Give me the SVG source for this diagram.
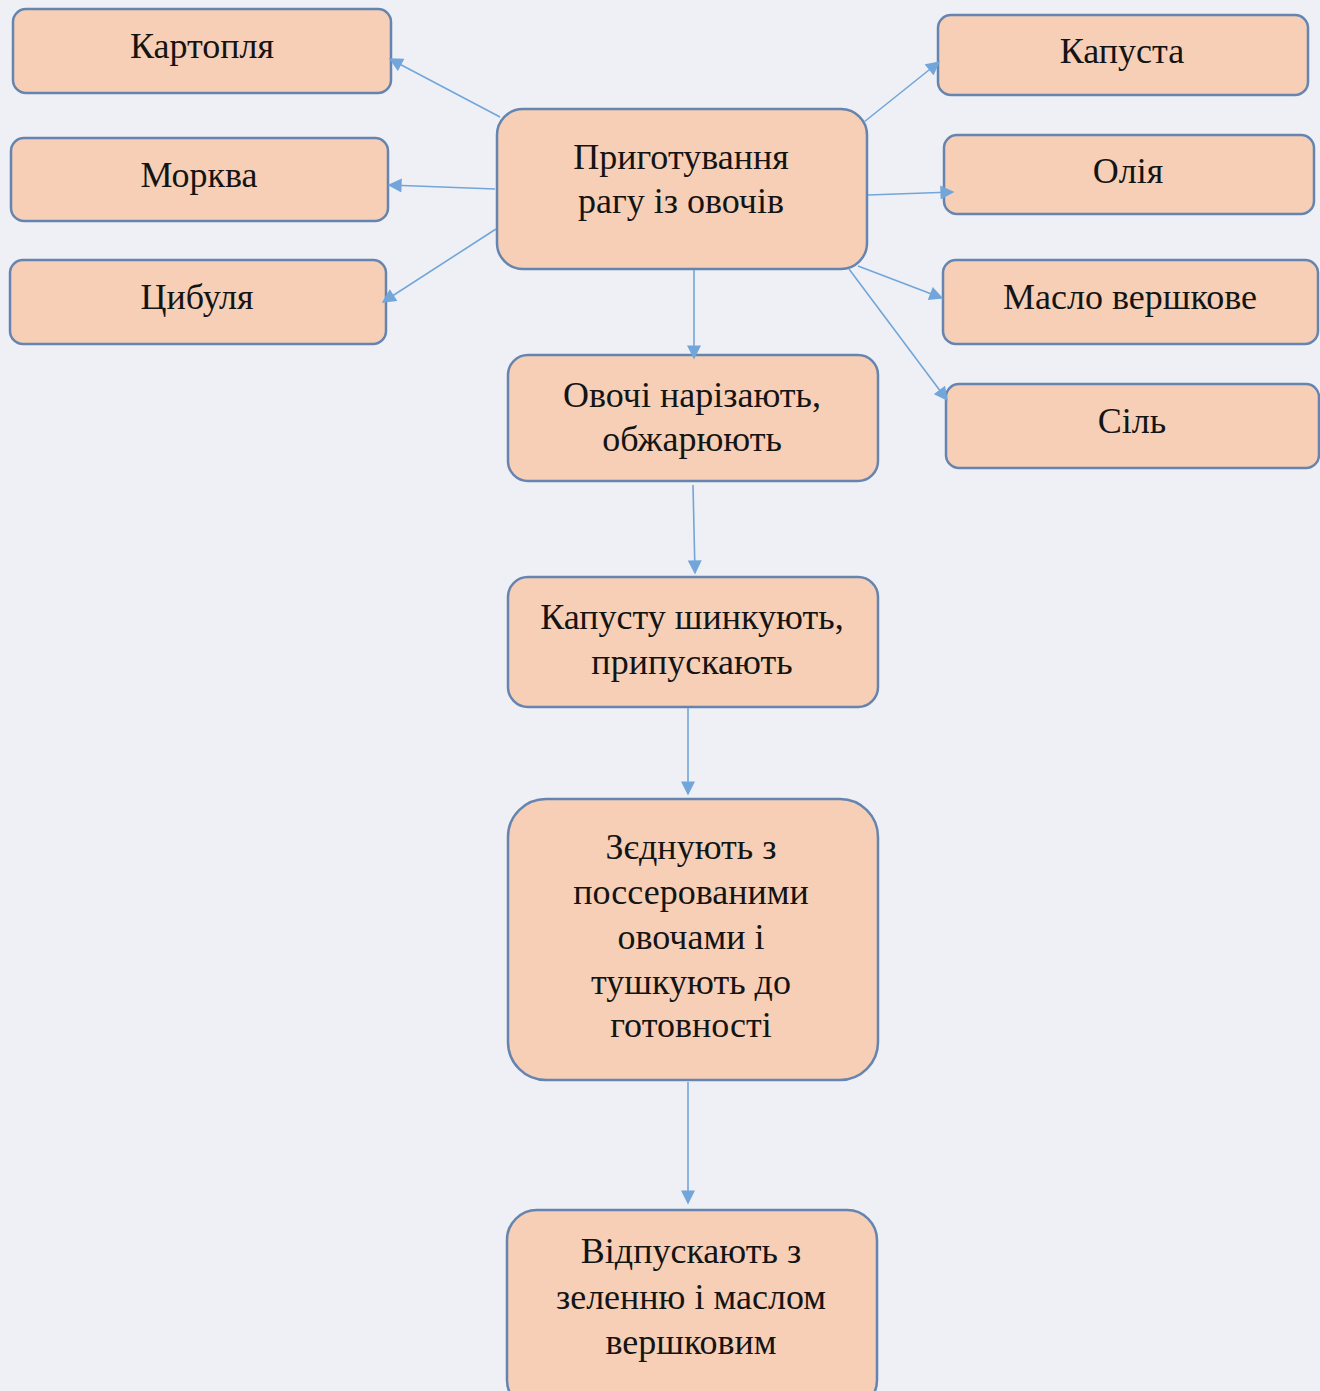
<svg xmlns="http://www.w3.org/2000/svg" width="1320" height="1391" viewBox="0 0 1320 1391">
  <style>
    .box { fill: #f6cfb6; stroke: #6684b0; stroke-width: 2.5; }
    .lbl { font-family: "Liberation Serif", "Times New Roman", serif; font-size: 36px; fill: #141414; text-anchor: middle; }
    .conn { stroke: #72a6da; stroke-width: 1.6; fill: none; marker-end: url(#arrow); }
  </style>
  <defs>
    <marker id="arrow" viewBox="0 0 10 10" refX="9" refY="5" markerWidth="15" markerHeight="14" markerUnits="userSpaceOnUse" orient="auto">
      <path d="M0,0 L10,5 L0,10 Z" fill="#72a6da"/>
    </marker>
  </defs>

  <!-- paper background -->
  <rect x="0" y="0" width="1320" height="1391" fill="#eef0f6"/>

  <!-- ingredient boxes, left -->
  <g id="kartoplia">
    <rect class="box" x="13" y="9" width="378" height="84" rx="13"/>
    <text class="lbl" x="202" y="58">Картопля</text>
  </g>
  <g id="morkva">
    <rect class="box" x="11" y="138" width="377" height="83" rx="13"/>
    <text class="lbl" x="199" y="187">Морква</text>
  </g>
  <g id="tsybulia">
    <rect class="box" x="10" y="260" width="376" height="84" rx="13"/>
    <text class="lbl" x="197" y="309">Цибуля</text>
  </g>

  <!-- central node -->
  <g id="ragu">
    <rect class="box" x="497" y="109" width="370" height="160" rx="26"/>
    <text class="lbl" x="681" y="169">Приготування</text>
    <text class="lbl" x="681" y="213">рагу із овочів</text>
  </g>

  <!-- ingredient boxes, right -->
  <g id="kapusta">
    <rect class="box" x="938" y="15" width="370" height="80" rx="13"/>
    <text class="lbl" x="1122" y="63">Капуста</text>
  </g>
  <g id="oliia">
    <rect class="box" x="944" y="135" width="370" height="79" rx="13"/>
    <text class="lbl" x="1128" y="183">Олія</text>
  </g>
  <g id="maslo">
    <rect class="box" x="943" y="260" width="375" height="84" rx="13"/>
    <text class="lbl" x="1130" y="309">Масло вершкове</text>
  </g>
  <g id="sil">
    <rect class="box" x="946" y="384" width="373" height="84" rx="13"/>
    <text class="lbl" x="1132" y="433">Сіль</text>
  </g>

  <!-- process steps -->
  <g id="step1">
    <rect class="box" x="508" y="355" width="370" height="126" rx="20"/>
    <text class="lbl" x="692" y="407">Овочі нарізають,</text>
    <text class="lbl" x="692" y="451">обжарюють</text>
  </g>
  <g id="step2">
    <rect class="box" x="508" y="577" width="370" height="130" rx="20"/>
    <text class="lbl" x="692" y="629">Капусту шинкують,</text>
    <text class="lbl" x="692" y="674">припускають</text>
  </g>
  <g id="step3">
    <rect class="box" x="508" y="799" width="370" height="281" rx="38"/>
    <text class="lbl" x="691" y="859">Зєднують з</text>
    <text class="lbl" x="691" y="904">поссерованими</text>
    <text class="lbl" x="691" y="949">овочами і</text>
    <text class="lbl" x="691" y="994">тушкують до</text>
    <text class="lbl" x="691" y="1037">готовності</text>
  </g>
  <g id="step4">
    <rect class="box" x="507" y="1210" width="370" height="200" rx="30"/>
    <text class="lbl" x="691" y="1263">Відпускають з</text>
    <text class="lbl" x="691" y="1309">зеленню і маслом</text>
    <text class="lbl" x="691" y="1354">вершковим</text>
  </g>

  <!-- connectors, drawn over the box edges -->
  <g id="connectors">
    <line class="conn" x1="500" y1="117" x2="390" y2="59"/>
    <line class="conn" x1="495" y1="189" x2="389" y2="185"/>
    <line class="conn" x1="496" y1="229" x2="383" y2="302"/>
    <line class="conn" x1="864" y1="122" x2="939" y2="62"/>
    <line class="conn" x1="868" y1="195" x2="953" y2="192"/>
    <line class="conn" x1="858" y1="266" x2="942" y2="298"/>
    <line class="conn" x1="849" y1="269" x2="947" y2="400"/>
    <line class="conn" x1="694" y1="270" x2="694" y2="358"/>
    <line class="conn" x1="693" y1="485" x2="695" y2="573"/>
    <line class="conn" x1="688" y1="708" x2="688" y2="794"/>
    <line class="conn" x1="688" y1="1082" x2="688" y2="1203"/>
  </g>
</svg>
